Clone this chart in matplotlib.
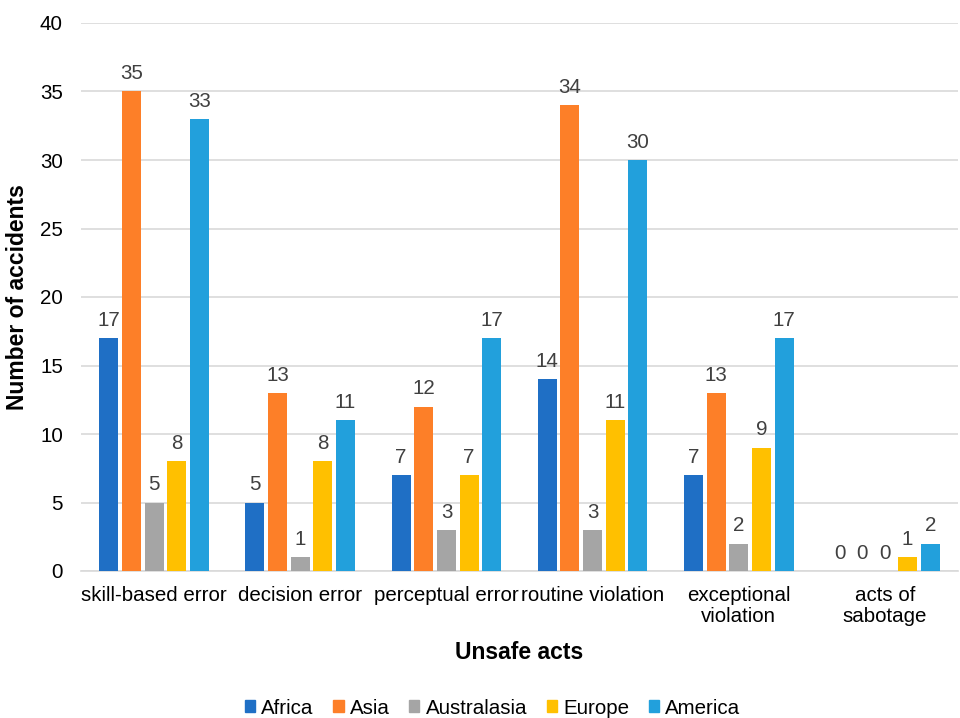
import numpy as np
import matplotlib
matplotlib.use("Agg")
import matplotlib.pyplot as plt

plt.rcParams['font.family'] = ['Liberation Sans', 'DejaVu Sans']

categories = ["skill-based error", "decision error", "perceptual error",
              "routine violation", "exceptional\nviolation", "acts of\nsabotage"]
series = ["Africa", "Asia", "Australasia", "Europe", "America"]
africa = [17, 5, 7, 14, 7, 0]
asia = [35, 13, 12, 34, 13, 0]
australasia = [5, 1, 3, 3, 2, 0]
europe = [8, 8, 7, 11, 9, 1]
america = [33, 11, 17, 30, 17, 2]
values = [africa, asia, australasia, europe, america]
colors = ['#1f6fc5', '#fd7f28', '#a5a5a5', '#ffc000', '#22a0dc']

fig = plt.figure(figsize=(9.6, 7.18), dpi=100)
ax = fig.add_axes([81 / 960, 1 - 571 / 718, 877 / 960, 548 / 718])

x = np.arange(len(categories))
slot = 0.155
width = 0.13
for i, (name, vals, col) in enumerate(zip(series, values, colors)):
    pos = x + (i - 2) * slot
    ax.bar(pos, vals, width=width, color=col, label=name, zorder=3)
    for p, v in zip(pos, vals):
        ax.text(p, v + 0.6, str(v), ha='center', va='bottom', fontsize=14.8, color='#404040')

ax.set_xlim(-0.5, len(categories) - 0.5)
ax.set_ylim(0, 40)
ax.set_yticks(range(0, 41, 5))
ax.set_xticks(x)
ax.set_xticklabels(categories, fontsize=14.8, color='#000000', linespacing=1.1)
ax.tick_params(axis='y', labelsize=14.8, length=0, pad=13)
ax.tick_params(axis='x', length=0, pad=11)
ax.grid(axis='y', color='#d9d9d9', linewidth=1.2, zorder=0)
for s in ['top', 'right', 'left']:
    ax.spines[s].set_visible(False)
ax.spines['bottom'].set_color('#d9d9d9')
ax.spines['bottom'].set_linewidth(1.2)

ax.set_ylabel("Number of accidents", fontsize=16.5, fontweight='bold')
ax.yaxis.set_label_coords((29 - 81) / 877, 0.5)
ax.set_xlabel("Unsafe acts", fontsize=16.5, fontweight='bold', labelpad=11)

handles = [plt.Rectangle((0, 0), 1, 1, color=c) for c in colors]
fig.legend(handles, series, loc='center', bbox_to_anchor=(0.513, 1 - 708 / 718),
           ncol=5, frameon=False, fontsize=14.8, handlelength=0.5, handleheight=0.5,
           handletextpad=0.3, columnspacing=0.95)

fig.savefig("out.png", dpi=100)
